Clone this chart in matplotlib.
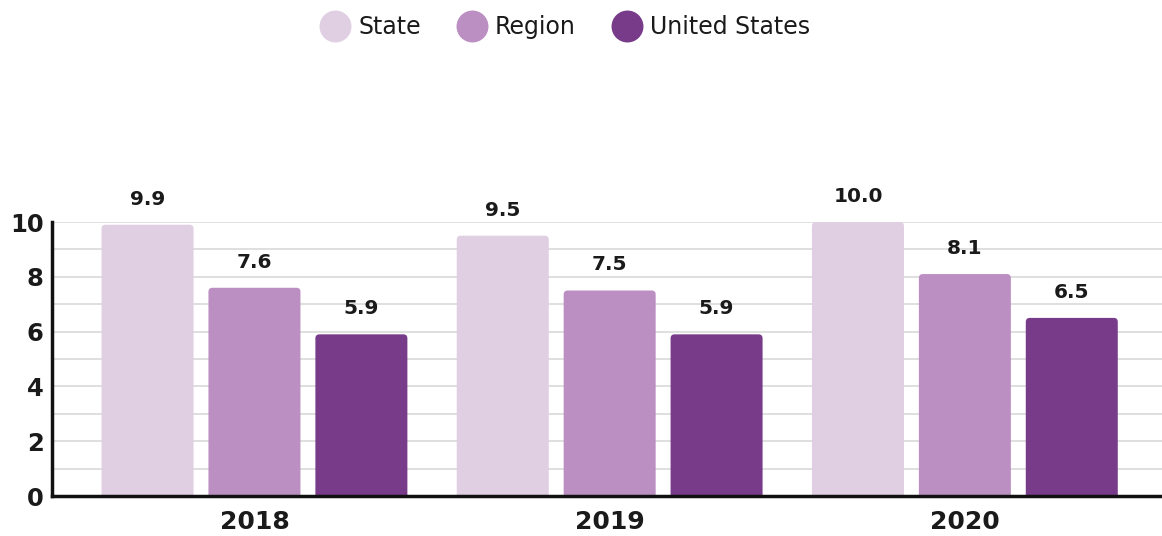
import matplotlib
matplotlib.use("Agg")
import matplotlib.pyplot as plt
from matplotlib.patches import FancyBboxPatch
from matplotlib.lines import Line2D
import numpy as np

years = ["2018", "2019", "2020"]
series = ["State", "Region", "United States"]
state = [9.9, 9.5, 10.0]
region = [7.6, 7.5, 8.1]
us = [5.9, 5.9, 6.5]
colors = ["#e0cee3", "#bb8fc2", "#783b8a"]

fig = plt.figure(figsize=(11.62, 5.36), dpi=100)
ax = fig.add_axes([52 / 1162, 40 / 536, 1 - 52 / 1162, 274 / 536])

x = np.arange(len(years))
width = 0.259
offset = 0.301

for i, (vals, col) in enumerate(zip([state, region, us], colors)):
    bars = ax.bar(x + (i - 1) * offset, vals, width, color=col)
    for b in bars:
        b.set_visible(False)
        # rounded top, bottom pushed under the axis so it stays square
        patch = FancyBboxPatch((b.get_x(), -0.3), b.get_width(), b.get_height() + 0.3,
                               boxstyle="round,pad=0,rounding_size=0.0113",
                               mutation_aspect=12.97, fc=col, ec="none", zorder=2)
        ax.add_patch(patch)
        ax.annotate(f"{b.get_height():.1f}", (b.get_x() + b.get_width() / 2, b.get_height()),
                    xytext=(0, 14.5), textcoords="offset points", ha="center", va="baseline",
                    fontsize=14.5, fontweight="bold", color="#1a1a1a", annotation_clip=False)

ax.set_xlim(-0.57, 2.555)
ax.set_ylim(0, 10)
ax.set_xticks(x)
ax.set_xticklabels(years, fontsize=18, fontweight="bold", color="#1a1a1a")
ax.set_yticks(range(0, 11, 2))
ax.set_yticks(range(1, 11, 2), minor=True)
ax.set_yticklabels([str(v) for v in range(0, 11, 2)], fontsize=17.5, fontweight="bold", color="#1a1a1a")
ax.tick_params(axis="both", which="both", length=0)
ax.tick_params(axis="y", pad=6)
ax.tick_params(axis="x", pad=10)
ax.grid(axis="y", which="both", color="#dcdcdc", linewidth=1.3, zorder=0)
ax.set_axisbelow(True)

for s in ["top", "right"]:
    ax.spines[s].set_visible(False)
ax.spines["left"].set_linewidth(2.5)
ax.spines["bottom"].set_linewidth(2.5)
ax.spines["left"].set_color("#111111")
ax.spines["bottom"].set_color("#111111")
ax.spines["left"].set_zorder(3)
ax.spines["bottom"].set_zorder(3)

handles = [Line2D([], [], marker="o", linestyle="none", markersize=23,
                  markerfacecolor=c, markeredgecolor="none") for c in colors]
fig.legend(handles, series, loc="center", bbox_to_anchor=(566 / 1162, 1 - 27 / 536),
           ncol=3, frameon=False, fontsize=17, handlelength=1.1, handletextpad=0.45,
           columnspacing=1.6, labelcolor="#1a1a1a")

fig.savefig("out.png", dpi=100)
